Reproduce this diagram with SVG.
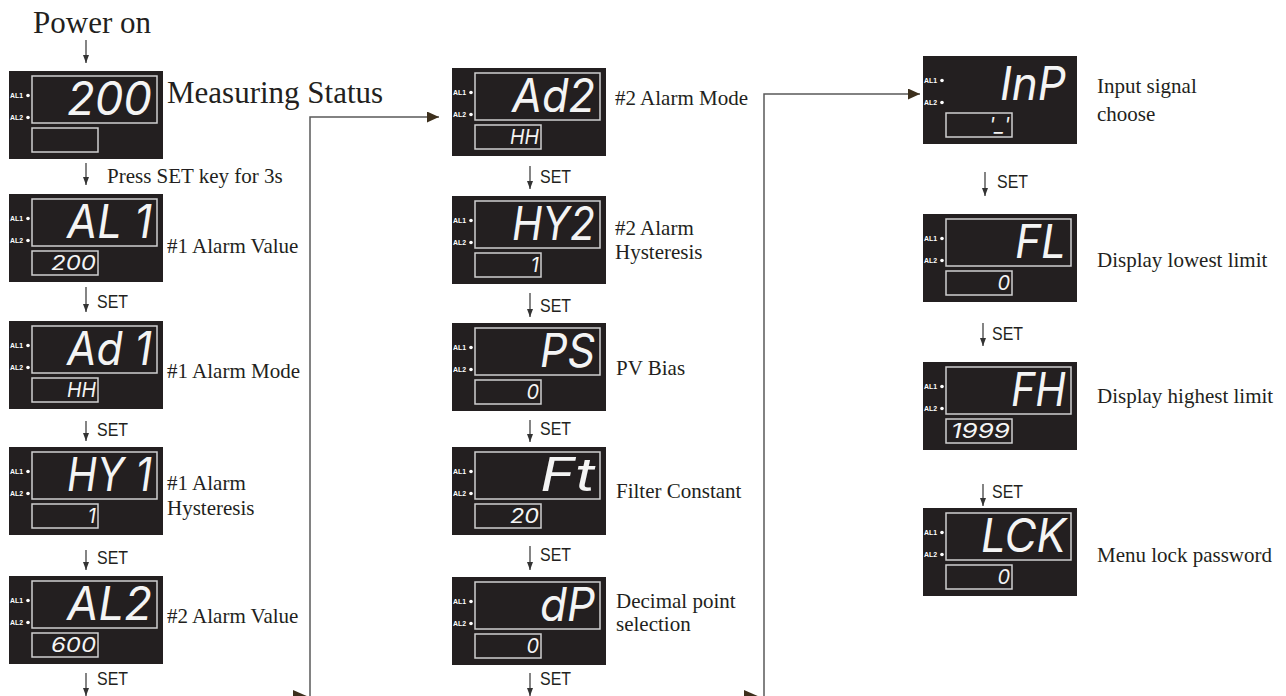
<svg xmlns="http://www.w3.org/2000/svg" xmlns:xlink="http://www.w3.org/1999/xlink" width="1286" height="696" viewBox="0 0 1286 696">
<style>
.bg{fill:#231f20}
.box{fill:none;stroke:#cfcfcf;stroke-width:1.5}
.al{font-family:"Liberation Sans",Arial,sans-serif;font-weight:bold;font-size:6.5px;fill:#ffffff}
.dot{fill:#ffffff}
.seg{font-family:Inter,"DejaVu Sans",sans-serif;font-style:italic;font-weight:400;font-size:46px;fill:#f4f4f4;text-anchor:end}
.seg2{font-family:Inter,"DejaVu Sans",sans-serif;font-style:italic;font-weight:400;font-size:20px;fill:#f4f4f4;text-anchor:end}
.lbl{font-family:"Liberation Serif","Times New Roman",serif;font-size:21px;fill:#231f20}
.big{font-family:"Liberation Serif","Times New Roman",serif;font-size:31px;fill:#231f20}
.set{font-family:"Liberation Sans",Arial,sans-serif;font-size:19px;fill:#231f20}
.sm{stroke:#333;stroke-width:1.2;fill:none}
.conn{stroke:#5a5a5a;stroke-width:1.5;fill:none}
.head{fill:#3c2f1c}
</style>
<defs>
<marker id="sa" markerUnits="userSpaceOnUse" markerWidth="8" markerHeight="7" refX="8" refY="3" orient="auto"><path d="M0,0 L8,3 L0,6 z" fill="#333"/></marker>
<marker id="ba" markerUnits="userSpaceOnUse" markerWidth="13" markerHeight="12" refX="12" refY="5.5" orient="auto"><path d="M0,0 L12,5.5 L0,11 z" class="head"/></marker>
<g id="base">
<rect x="0" y="0" width="154" height="88" class="bg"/>
<rect x="23" y="57" width="66" height="24" class="box"/>
<text x="1" y="26.5" class="al" textLength="13" lengthAdjust="spacingAndGlyphs">AL1</text>
<circle cx="19" cy="24.5" r="1.8" class="dot"/>
<text x="1" y="48.5" class="al" textLength="13" lengthAdjust="spacingAndGlyphs">AL2</text>
<circle cx="19" cy="46.5" r="1.8" class="dot"/>
</g>
<rect id="upper" x="23" y="5" width="125" height="47" class="box"/>
</defs>

<g id="texts">
<text x="33" y="33" class="big">Power on</text>
<text x="107" y="183" class="lbl">Press SET key for 3s</text>
</g>

<g id="connectors">
<line x1="86" y1="40" x2="86" y2="63" class="sm" marker-end="url(#sa)"/>
<line x1="86" y1="163" x2="86" y2="185" class="sm" marker-end="url(#sa)"/>
<line x1="86" y1="287" x2="86" y2="312" class="sm" marker-end="url(#sa)"/>
<line x1="86" y1="421" x2="86" y2="441" class="sm" marker-end="url(#sa)"/>
<line x1="86" y1="550" x2="86" y2="570" class="sm" marker-end="url(#sa)"/>
<line x1="86" y1="673" x2="86" y2="696" class="sm" marker-end="url(#sa)"/>
<line x1="530" y1="166" x2="530" y2="189" class="sm" marker-end="url(#sa)"/>
<line x1="530" y1="293" x2="530" y2="317" class="sm" marker-end="url(#sa)"/>
<line x1="530" y1="420" x2="530" y2="442" class="sm" marker-end="url(#sa)"/>
<line x1="530" y1="546" x2="530" y2="570" class="sm" marker-end="url(#sa)"/>
<line x1="530" y1="673" x2="530" y2="696" class="sm" marker-end="url(#sa)"/>
<line x1="985" y1="172" x2="985" y2="196" class="sm" marker-end="url(#sa)"/>
<line x1="983" y1="323" x2="983" y2="346" class="sm" marker-end="url(#sa)"/>
<line x1="983" y1="484" x2="983" y2="506" class="sm" marker-end="url(#sa)"/>
<polyline points="310,697 310,117 439,117" class="conn" marker-end="url(#ba)"/>
<path d="M293,690 L309,697 L293,704 z" class="head"/>
<polyline points="764,697 764,94 920,94" class="conn" marker-end="url(#ba)"/>
<path d="M744,690 L760,697 L744,704 z" class="head"/>
<text x="97" y="308" class="set" textLength="31" lengthAdjust="spacingAndGlyphs">SET</text>
<text x="97" y="436" class="set" textLength="31" lengthAdjust="spacingAndGlyphs">SET</text>
<text x="97" y="564" class="set" textLength="31" lengthAdjust="spacingAndGlyphs">SET</text>
<text x="97" y="685" class="set" textLength="31" lengthAdjust="spacingAndGlyphs">SET</text>
<text x="540" y="183" class="set" textLength="31" lengthAdjust="spacingAndGlyphs">SET</text>
<text x="540" y="312" class="set" textLength="31" lengthAdjust="spacingAndGlyphs">SET</text>
<text x="540" y="435" class="set" textLength="31" lengthAdjust="spacingAndGlyphs">SET</text>
<text x="540" y="561" class="set" textLength="31" lengthAdjust="spacingAndGlyphs">SET</text>
<text x="540" y="685" class="set" textLength="31" lengthAdjust="spacingAndGlyphs">SET</text>
<text x="997" y="188" class="set" textLength="31" lengthAdjust="spacingAndGlyphs">SET</text>
<text x="992" y="340" class="set" textLength="31" lengthAdjust="spacingAndGlyphs">SET</text>
<text x="992" y="498" class="set" textLength="31" lengthAdjust="spacingAndGlyphs">SET</text>
</g>

<g id="n-measure" transform="translate(9,71)">
<use xlink:href="#base"/><use xlink:href="#upper"/>
<text x="143" y="44" class="seg" textLength="85" lengthAdjust="spacingAndGlyphs">200</text>
<text x="158" y="32" class="big">Measuring Status</text>
</g>
<g id="n-al1" transform="translate(9,194)">
<use xlink:href="#base"/><use xlink:href="#upper"/>
<text x="143" y="44" class="seg" xml:space="preserve" textLength="85" lengthAdjust="spacingAndGlyphs">AL 1</text>
<text x="87" y="76" class="seg2" textLength="45" lengthAdjust="spacingAndGlyphs">200</text>
<text x="158" y="59" class="lbl">#1 Alarm Value</text>
</g>
<g id="n-ad1" transform="translate(9,321)">
<use xlink:href="#base"/><use xlink:href="#upper"/>
<text x="143" y="44" class="seg" xml:space="preserve" textLength="85" lengthAdjust="spacingAndGlyphs">Ad 1</text>
<text x="87" y="76" class="seg2" textLength="29" lengthAdjust="spacingAndGlyphs">HH</text>
<text x="158" y="57" class="lbl">#1 Alarm Mode</text>
</g>
<g id="n-hy1" transform="translate(9,447)">
<use xlink:href="#base"/><use xlink:href="#upper"/>
<text x="143" y="44" class="seg" xml:space="preserve" textLength="85" lengthAdjust="spacingAndGlyphs">HY 1</text>
<text x="87" y="76" class="seg2">1</text>
<text x="158" y="43" class="lbl">#1 Alarm</text>
<text x="158" y="68" class="lbl">Hysteresis</text>
</g>
<g id="n-al2" transform="translate(9,576)">
<use xlink:href="#base"/><use xlink:href="#upper"/>
<text x="143" y="44" class="seg" textLength="85" lengthAdjust="spacingAndGlyphs">AL2</text>
<text x="87" y="76" class="seg2" textLength="45" lengthAdjust="spacingAndGlyphs">600</text>
<text x="158" y="47" class="lbl">#2 Alarm Value</text>
</g>

<g id="n-ad2" transform="translate(452,68)">
<use xlink:href="#base"/><use xlink:href="#upper"/>
<text x="143" y="44" class="seg" textLength="83" lengthAdjust="spacingAndGlyphs">Ad2</text>
<text x="87" y="76" class="seg2" textLength="29" lengthAdjust="spacingAndGlyphs">HH</text>
<text x="163" y="37" class="lbl">#2 Alarm Mode</text>
</g>
<g id="n-hy2" transform="translate(452,196)">
<use xlink:href="#base"/><use xlink:href="#upper"/>
<text x="143" y="44" class="seg" textLength="83" lengthAdjust="spacingAndGlyphs">HY2</text>
<text x="87" y="76" class="seg2">1</text>
<text x="163" y="39" class="lbl">#2 Alarm</text>
<text x="163" y="63" class="lbl">Hysteresis</text>
</g>
<g id="n-ps" transform="translate(452,323)">
<use xlink:href="#base"/><use xlink:href="#upper"/>
<text x="143" y="44" class="seg" textLength="55" lengthAdjust="spacingAndGlyphs">PS</text>
<text x="87" y="76" class="seg2">0</text>
<text x="164" y="52" class="lbl">PV Bias</text>
</g>
<g id="n-ft" transform="translate(452,447)">
<use xlink:href="#base"/><use xlink:href="#upper"/>
<text x="143" y="44" class="seg" textLength="55" lengthAdjust="spacingAndGlyphs">Ft</text>
<text x="87" y="76" class="seg2" textLength="29" lengthAdjust="spacingAndGlyphs">20</text>
<text x="164" y="51" class="lbl">Filter Constant</text>
</g>
<g id="n-dp" transform="translate(452,577)">
<use xlink:href="#base"/><use xlink:href="#upper"/>
<text x="143" y="44" class="seg" textLength="55" lengthAdjust="spacingAndGlyphs">dP</text>
<text x="87" y="76" class="seg2">0</text>
<text x="164" y="31" class="lbl">Decimal point</text>
<text x="164" y="54" class="lbl">selection</text>
</g>

<g id="n-inp" transform="translate(923,56)">
<use xlink:href="#base"/>
<text x="143" y="44" class="seg" textLength="66" lengthAdjust="spacingAndGlyphs">InP</text>
<text x="87" y="76" class="seg2">'_'</text>
<text x="174" y="37" class="lbl" font-size="22.5">Input signal</text>
<text x="174" y="65" class="lbl" font-size="22.5">choose</text>
</g>
<g id="n-fl" transform="translate(923,214)">
<use xlink:href="#base"/><use xlink:href="#upper"/>
<text x="143" y="44" class="seg" textLength="51" lengthAdjust="spacingAndGlyphs">FL</text>
<text x="87" y="76" class="seg2">0</text>
<text x="174" y="53" class="lbl" font-size="21.3">Display lowest limit</text>
</g>
<g id="n-fh" transform="translate(923,362)">
<use xlink:href="#base"/><use xlink:href="#upper"/>
<text x="143" y="44" class="seg" textLength="55" lengthAdjust="spacingAndGlyphs">FH</text>
<text x="87" y="76" class="seg2" textLength="59" lengthAdjust="spacingAndGlyphs">1999</text>
<text x="174" y="41" class="lbl" font-size="21.3">Display highest limit</text>
</g>
<g id="n-lck" transform="translate(923,508)">
<use xlink:href="#base"/><use xlink:href="#upper"/>
<text x="143" y="44" class="seg" textLength="85" lengthAdjust="spacingAndGlyphs">LCK</text>
<text x="87" y="76" class="seg2">0</text>
<text x="174" y="54" class="lbl" font-size="21.4">Menu lock password</text>
</g>
</svg>
